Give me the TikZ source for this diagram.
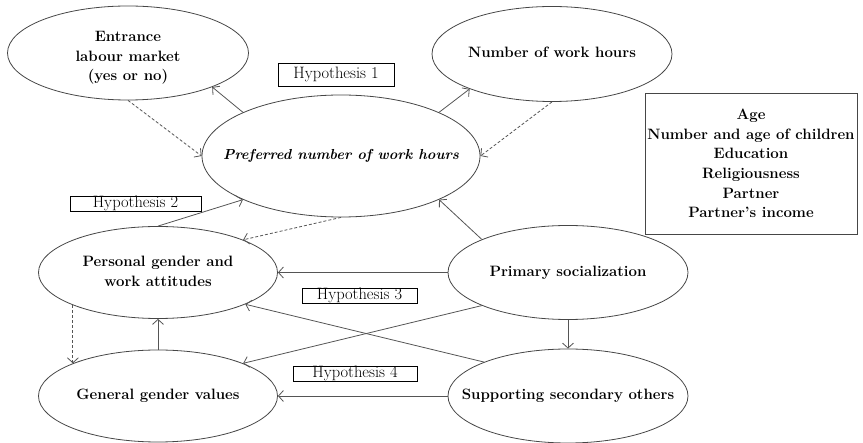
\documentclass[tikz,border=0pt]{standalone}
\usepackage{tikz}
\usetikzlibrary{arrows.meta,shapes.geometric,positioning}
\definecolor{LineGray}{RGB}{85,85,85}
\definecolor{EdgeGray}{RGB}{70,70,70}
\newcommand{\bubbletext}[1]{\makebox[0pt]{\begin{tabular}{@{}c@{}}#1\end{tabular}}}

\begin{document}
\begin{tikzpicture}[x=1pt,y=-1pt,>={Straight Barb[length=5pt,width=11pt]},
    bubble/.style={ellipse,draw=EdgeGray,line width=0.8pt,inner sep=0pt,
      font=\fontsize{15}{19.5}\selectfont\bfseries},
    hyp/.style={rectangle,draw=black,line width=0.7pt,inner sep=0pt,
      minimum height=15pt,font=\fontsize{16.5}{18}\selectfont},
    link/.style={->,LineGray,line width=0.8pt},
    weak link/.style={link,dash pattern=on 3pt off 2pt}]
  \useasboundingbox (0,0) rectangle (863,443);
  % outcomes
  \node[bubble,minimum width=241pt,minimum height=94pt] (entry) at (128,53)
    {\raisebox{-8pt}[0pt][0pt]{\bubbletext{Entrance\\labour market\\(yes or no)}}};
  \node[bubble,minimum width=240pt,minimum height=95pt] (hours) at (552,54)
    {\bubbletext{Number of work hours}};
  \node[bubble,minimum width=278pt,minimum height=122pt] (pref) at (341,156)
    {\bubbletext{\fontsize{14.5}{19.5}\selectfont\textit{Preferred number of work hours}}};
  % attitudes and values
  \node[bubble,minimum width=239pt,minimum height=92pt] (attit) at (158,272.5)
    {\bubbletext{Personal gender and\\work attitudes}};
  \node[bubble,minimum width=239pt,minimum height=92pt] (values) at (158,396)
    {\bubbletext{General gender values}};
  % socialization
  \node[bubble,minimum width=240pt,minimum height=94pt] (primary) at (568,272.5)
    {\bubbletext{Primary socialization}};
  \node[bubble,minimum width=240pt,minimum height=94pt] (second) at (568,396)
    {\bubbletext{Supporting secondary others}};
  % control variables
  \node[draw=EdgeGray,line width=0.8pt,minimum width=212pt,minimum height=141pt,
    inner sep=0pt,align=center,font=\fontsize{15}{19.6}\selectfont\bfseries]
    (controls) at (751,163.5)
    {Age\\Number and age of children\\Education\\Religiousness\\Partner\\Partner's income};
  % hypotheses
  \node[hyp,minimum width=116pt,minimum height=23pt] (h1) at (336,74.5) {Hypothesis 1};
  \node[hyp,minimum width=131pt] (h2) at (135.5,203.5) {Hypothesis 2};
  \node[hyp,minimum width=115pt] (h3) at (359.5,295.5) {Hypothesis 3};
  \node[hyp,minimum width=124pt] (h4) at (355,373.5) {Hypothesis 4};
  % paths
  \draw[link] (pref.156.5) -- (entry.-22);
  \draw[weak link] (entry.south) -- (pref.west);
  \draw[link] (pref.24) -- (hours.-157);
  \draw[weak link] (hours.south) -- (pref.east);
  \draw[link] (attit.north) -- (pref.-156);
  \draw[weak link] (pref.south) -- (attit.21);
  \draw[link] (primary.159) -- (pref.-24.5);
  \draw[link] (primary.west) -- (attit.east);
  \draw[link] (primary.-159) -- (values.21);
  \draw[link] (second.158) -- (attit.-20);
  \draw[link] (primary.south) -- (second.north);
  \draw[link] (second.west) -- (values.east);
  \draw[link] (values.north) -- (attit.south);
  \draw[weak link] (attit.-159) -- (values.159);
\end{tikzpicture}
\end{document}
